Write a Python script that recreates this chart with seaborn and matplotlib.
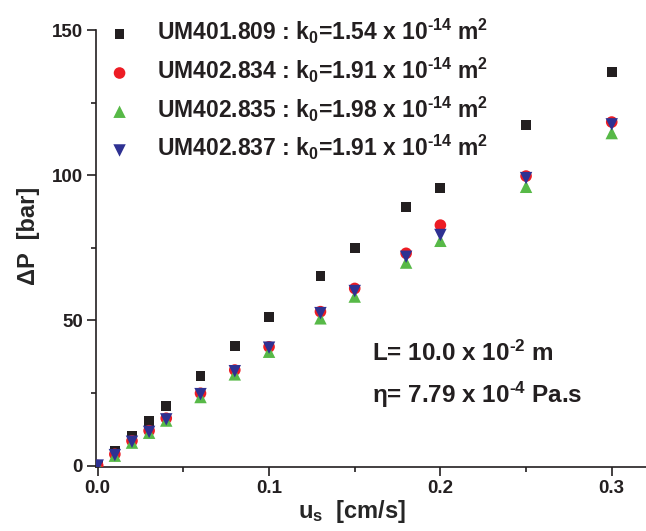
import numpy as np
import matplotlib
matplotlib.use('Agg')
import matplotlib.pyplot as plt
import seaborn as sns
import pandas as pd

# superficial velocity [cm/s]
us = [0.0, 0.01, 0.02, 0.03, 0.04, 0.06, 0.08, 0.10, 0.13, 0.15, 0.18, 0.20, 0.25, 0.30]

# pressure drop [bar] for each sample
dp_809 = [0.0, 5.0, 10.2, 15.3, 20.5, 30.9, 41.3, 51.3, 65.3, 74.9, 89.1, 95.6, 117.3, 135.5]
dp_834 = [0.0, 3.9, 8.5, 12.0, 16.3, 24.9, 32.9, 40.9, 53.0, 61.0, 73.1, 82.8, 99.7, 118.3]
dp_835 = [0.0, 3.4, 7.9, 11.3, 15.5, 23.6, 31.4, 39.2, 50.7, 58.2, 69.9, 77.4, 96.0, 114.5]
dp_837 = [0.0, 3.6, 8.2, 11.6, 15.9, 24.6, 32.5, 40.6, 52.5, 60.1, 71.9, 79.4, 99.0, 117.5]

samples = ['UM401.809', 'UM402.834', 'UM402.835', 'UM402.837']
k0 = ['1.54', '1.91', '1.98', '1.91']

sns.set_style('ticks')
plt.rcParams['font.family'] = ['Liberation Sans', 'DejaVu Sans']
plt.rcParams['font.weight'] = 'bold'
plt.rcParams['mathtext.fontset'] = 'custom'
for f in ['rm', 'it', 'bf', 'sf']:
    plt.rcParams['mathtext.' + f] = 'Liberation Sans:bold'
plt.rcParams['mathtext.default'] = 'regular'
plt.rcParams['text.color'] = '#231f20'

fig = plt.figure(figsize=(6.46, 5.31), dpi=100)
ax = fig.add_axes([0.1486, 0.1205, 0.8514, 0.823])

styles = [
    (dp_809, 's', '#231f20', 50),
    (dp_834, 'o', '#ed1c24', 70),
    (dp_835, '^', '#57b947', 80),
    (dp_837, 'v', '#2e3192', 80),
]
for name, k, (vals, mk, col, size) in zip(samples, k0, styles):
    df = pd.DataFrame({'us': us, 'dP': vals})
    lab = name + ' : k$_0$=' + k + r' x 10$^{\text{-}14}$ m$^2$'
    sns.scatterplot(data=df, x='us', y='dP', marker=mk, color=col, s=size,
                    edgecolor='none', label=lab, ax=ax, zorder=3)

ax.set_xlim(-0.001, 0.32)
ax.set_ylim(-0.5, 150)
ax.set_xticks([0.0, 0.1, 0.2, 0.3])
ax.set_xticklabels(['0.0', '0.1', '0.2', '0.3'])
ax.set_xticks([0.05, 0.15, 0.25], minor=True)
ax.set_yticks([0, 50, 100, 150])
ax.set_yticks([25, 75, 125], minor=True)
ax.tick_params(axis='both', which='major', length=6.5, width=1.2, labelsize=13.5,
               colors='#231f20', pad=3)
ax.tick_params(axis='both', which='minor', length=3.5, width=1.2, colors='#231f20')
for lbl in ax.get_xticklabels() + ax.get_yticklabels():
    lbl.set_fontweight('bold')

sns.despine(ax=ax)
for sp in ['left', 'bottom']:
    ax.spines[sp].set_linewidth(1.2)
    ax.spines[sp].set_color('#231f20')

ax.set_xlabel('u$_s$  [cm/s]', fontsize=17, fontweight='bold')
ax.set_ylabel('ΔP  [bar]', fontsize=17, fontweight='bold')
ax.xaxis.set_label_coords(0.465, -0.072)
ax.yaxis.set_label_coords(-0.102, 0.53)

ax.text(0.502, 0.26, r'L= 10.0 x 10$^{\text{-}2}$ m', transform=ax.transAxes,
        fontsize=17.5, fontweight='bold', va='center', ha='left')
ax.text(0.502, 0.165, r'η= 7.79 x 10$^{\text{-}4}$ Pa.s', transform=ax.transAxes,
        fontsize=17.5, fontweight='bold', va='center', ha='left')

leg = ax.legend(loc='upper left', bbox_to_anchor=(-0.028, 1.066), frameon=False,
                prop={'size': 16.5, 'weight': 'bold'}, handletextpad=0.65,
                labelspacing=0.42, borderaxespad=0.3, markerscale=1.0)

fig.savefig('out.png', dpi=100)
